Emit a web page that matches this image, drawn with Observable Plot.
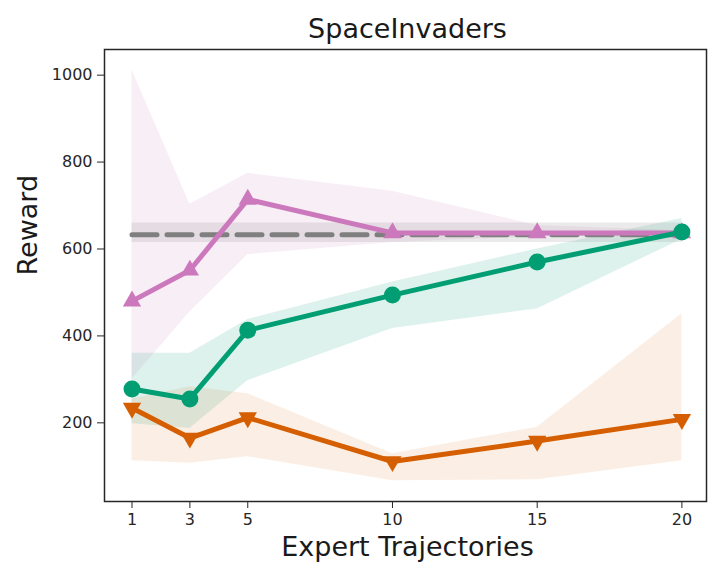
<!DOCTYPE html>
<html>
<head>
<meta charset="utf-8">
<script src="https://cdn.jsdelivr.net/npm/d3@7"></script>
<script src="https://cdn.jsdelivr.net/npm/@observablehq/plot@0.6"></script>
<style>
  html, body { margin: 0; padding: 0; background: #fff; }
  #chart { width: 708px; height: 563px; }
</style>
</head>
<body>
<div id="chart"></div>
<script>
const title = "SpaceInvaders";
const xLabel = "Expert Trajectories";
const yLabel = "Reward";
const trajectories = [1, 3, 5, 10, 15, 20];
const xTicks = [1, 3, 5, 10, 15, 20];
const yTicks = [200, 400, 600, 800, 1000];

// pink (triangle up)
const pinkMean = [480, 551, 714, 637, 637, 637];
const pinkLow  = [300, 455, 587, 615, 628, 630];
const pinkHigh = [1012, 703, 774, 733, 654, 642];
// green (circle)
const greenMean = [278, 255, 413, 494, 570, 639];
const greenLow  = [198, 187, 297, 417, 462, 622];
const greenHigh = [360, 360, 438, 524, 600, 670];
// orange (triangle down)
const orangeMean = [234, 165, 212, 111, 158, 208];
const orangeLow  = [113, 107, 122, 67, 69, 113];
const orangeHigh = [255, 283, 267, 129, 190, 451];
// expert reference
const expertMean = 633;
const expertLow = 615;
const expertHigh = 660;

const pinkColor = "#cc78bc", greenColor = "#029e73", orangeColor = "#d55e00", grayColor = "#7f7f7f";

const rows = (mean, low, high) => trajectories.map((t, i) => ({t, mean: mean[i], low: low[i], high: high[i]}));
const pink = rows(pinkMean, pinkLow, pinkHigh);
const green = rows(greenMean, greenLow, greenHigh);
const orange = rows(orangeMean, orangeLow, orangeHigh);
const expertEnds = [trajectories[0], trajectories[trajectories.length - 1]].map(t => ({t, mean: expertMean, low: expertLow, high: expertHigh}));

const chart = Plot.plot({
  width: 708,
  height: 563,
  marginTop: 49,
  marginRight: 2,
  marginBottom: 62,
  marginLeft: 104,
  style: {fontFamily: "DejaVu Sans", fontSize: "16px", color: "#262626", background: "#fff"},
  x: {domain: [0.05, 20.85]},
  y: {domain: [19, 1059]},
  marks: [
    Plot.areaY(pink, {x: "t", y1: "low", y2: "high", fill: pinkColor, fillOpacity: 0.13}),
    Plot.areaY(green, {x: "t", y1: "low", y2: "high", fill: greenColor, fillOpacity: 0.13}),
    Plot.areaY(orange, {x: "t", y1: "low", y2: "high", fill: orangeColor, fillOpacity: 0.1}),
    Plot.areaY(expertEnds, {x: "t", y1: "low", y2: "high", fill: "#949494", fillOpacity: 0.2}),
    Plot.line(expertEnds, {x: "t", y: "mean", stroke: grayColor, strokeWidth: 5, strokeDasharray: "25,10"}),
    Plot.line(pink, {x: "t", y: "mean", stroke: pinkColor, strokeWidth: 5}),
    Plot.dot(pink, {x: "t", y: "mean", symbol: "triangle", r: 6.8, fill: pinkColor}),
    Plot.line(green, {x: "t", y: "mean", stroke: greenColor, strokeWidth: 5}),
    Plot.dot(green, {x: "t", y: "mean", symbol: "circle", r: 8.5, fill: greenColor}),
    Plot.line(orange, {x: "t", y: "mean", stroke: orangeColor, strokeWidth: 5}),
    Plot.dot(orange, {x: "t", y: "mean", symbol: "triangle", rotate: 180, r: 6.8, fill: orangeColor}),
    Plot.frame({stroke: "#262626", strokeWidth: 1.5}),
    Plot.axisX({ticks: xTicks, tickSize: 7, tickPadding: 5, label: null, fontSize: 16, stroke: "#262626", tickFormat: d3.format("d")}),
    Plot.axisY({ticks: yTicks, tickSize: 7, tickPadding: 5, label: null, fontSize: 16, stroke: "#262626", tickFormat: d3.format("d")}),
    Plot.text([title], {frameAnchor: "top", lineAnchor: "middle", dy: -20, dx: 2, fontSize: 27, fill: "#1a1a1a"}),
    Plot.text([xLabel], {frameAnchor: "bottom", lineAnchor: "middle", dy: 46, dx: 2, fontSize: 27, fill: "#1a1a1a"}),
    Plot.text([yLabel], {frameAnchor: "left", lineAnchor: "middle", rotate: -90, dx: -76, fontSize: 27, fill: "#1a1a1a"})
  ]
});
document.getElementById("chart").appendChild(chart);
</script>
</body>
</html>
